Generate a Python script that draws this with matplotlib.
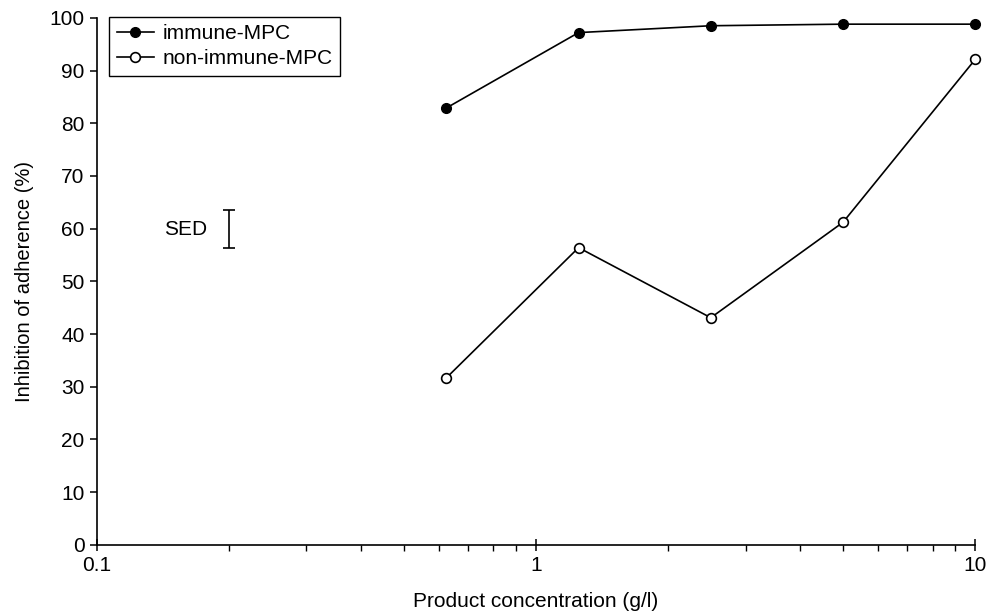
import matplotlib
matplotlib.use("Agg")
import matplotlib.pyplot as plt
from matplotlib.ticker import FixedLocator, NullFormatter, FixedFormatter

plt.rcParams['font.family'] = ['Liberation Sans', 'DejaVu Sans']

# donnees
concentration = [0.625, 1.25, 2.5, 5, 10]
immune_mpc = [82.9, 97.2, 98.5, 98.8, 98.8]
non_immune_mpc = [31.7, 56.4, 43.1, 61.2, 92.1]
sed_x = 0.2
sed_center = 59.9
sed_half = 3.6

FS = 15

fig = plt.figure(figsize=(9.89, 6.15), dpi=100)
ax = fig.add_axes([0.098, 0.114, 0.888, 0.857])

ax.plot(concentration, immune_mpc, color='black', lw=1.2, marker='o',
        markersize=7, markerfacecolor='black', markeredgecolor='black',
        label='immune-MPC', clip_on=False, zorder=3)
ax.plot(concentration, non_immune_mpc, color='black', lw=1.2, marker='o',
        markersize=7, markerfacecolor='white', markeredgecolor='black',
        markeredgewidth=1.2, label='non-immune-MPC', clip_on=False, zorder=3)

# barre SED
ax.errorbar([sed_x], [sed_center], yerr=[sed_half], fmt='none', ecolor='black',
            elinewidth=1.2, capsize=4, capthick=1.2)
ax.text(0.178, sed_center, 'SED', fontsize=FS, ha='right', va='center')

ax.set_xscale('log')
ax.set_xlim(0.1, 10)
ax.set_ylim(0, 100)
ax.set_yticks(range(0, 101, 10))
ax.xaxis.set_major_locator(FixedLocator([0.1, 1, 10]))
ax.xaxis.set_major_formatter(FixedFormatter(['0.1', '1', '10']))
ax.xaxis.set_minor_locator(FixedLocator([k * 0.1 for k in range(2, 10)] + list(range(2, 10))))
ax.xaxis.set_minor_formatter(NullFormatter())

for s in ['top', 'right']:
    ax.spines[s].set_visible(False)
for s in ['left', 'bottom']:
    ax.spines[s].set_linewidth(1.2)

ax.tick_params(axis='y', direction='out', length=5, width=1.1, labelsize=FS, pad=4)
ax.tick_params(axis='x', which='major', direction='inout', length=8, width=1.1,
               labelsize=FS, pad=4)
ax.tick_params(axis='x', which='minor', direction='out', length=4, width=1.0)

ax.set_xlabel('Product concentration (g/l)', fontsize=FS, labelpad=12)
ax.set_ylabel('Inhibition of adherence (%)', fontsize=14.5, labelpad=11)

leg = ax.legend(loc='upper left', bbox_to_anchor=(0.014, 1.002), fontsize=FS,
                frameon=True, fancybox=False, edgecolor='black', framealpha=1,
                handlelength=1.8, handletextpad=0.4, borderpad=0.35,
                labelspacing=0.3, borderaxespad=0)
leg.get_frame().set_linewidth(1.0)

fig.savefig('out.png', dpi=100)
